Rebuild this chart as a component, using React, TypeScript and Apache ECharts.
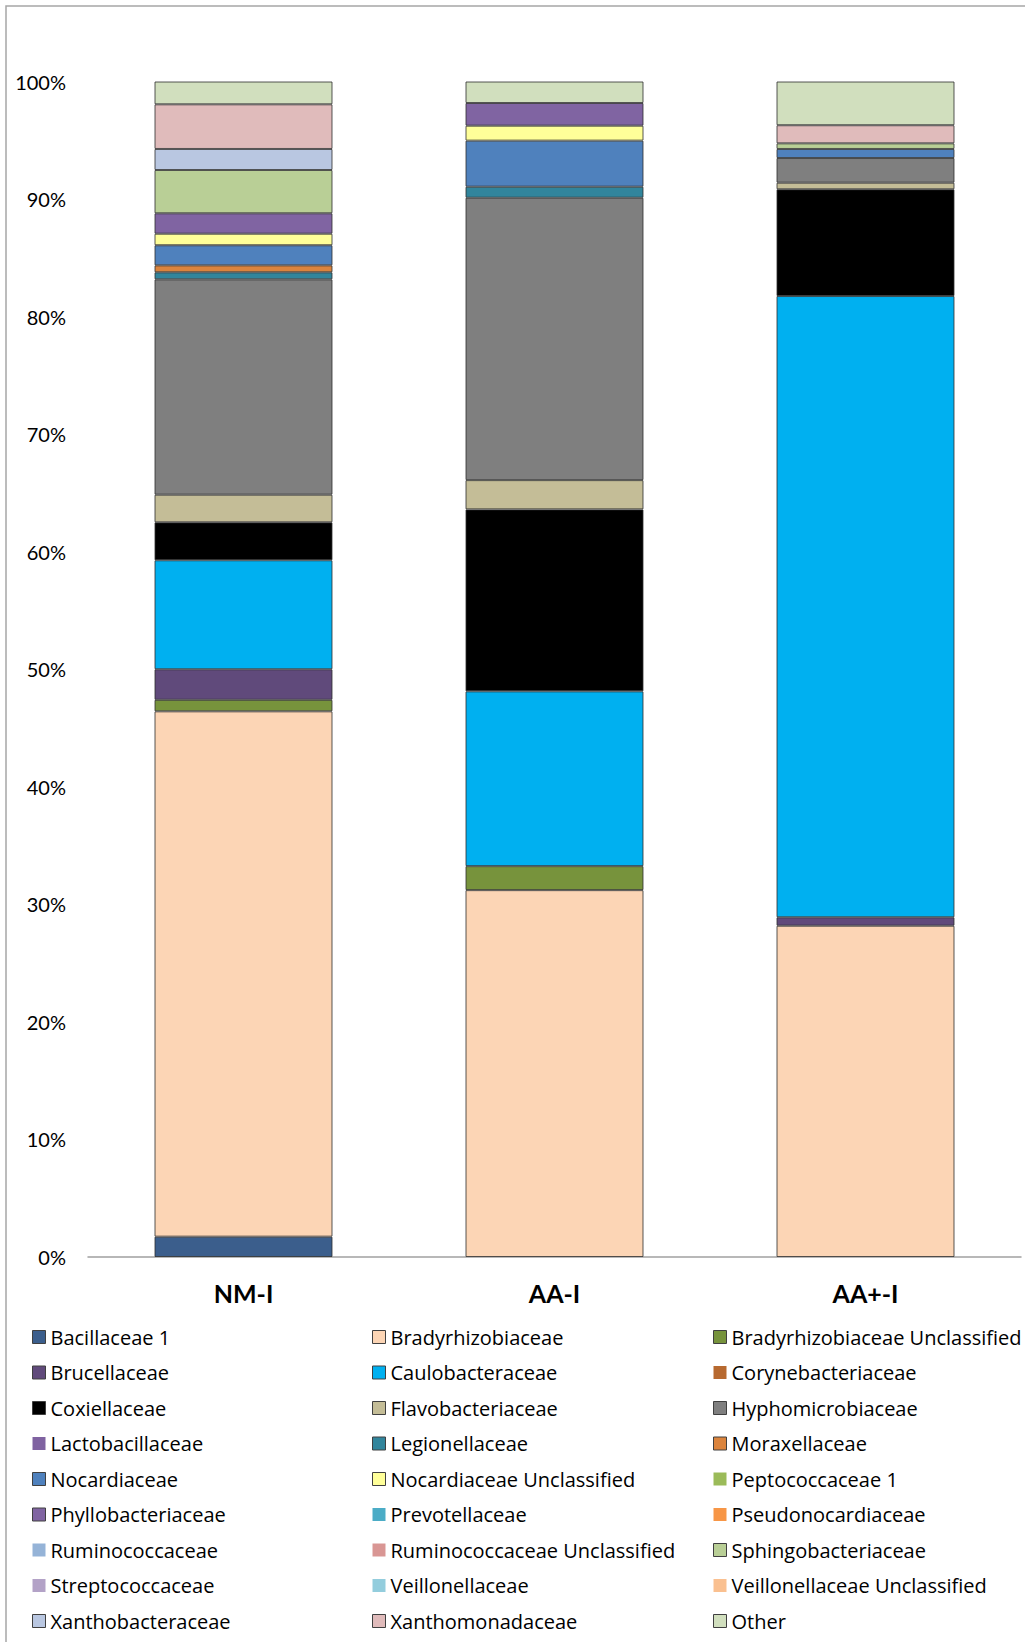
import React, { useEffect, useRef } from "react";
import * as echarts from "echarts";

const categories = ["NM-I", "AA-I", "AA+-I"];

const families = [
  "Bacillaceae 1",
  "Bradyrhizobiaceae",
  "Bradyrhizobiaceae Unclassified",
  "Brucellaceae",
  "Caulobacteraceae",
  "Corynebacteriaceae",
  "Coxiellaceae",
  "Flavobacteriaceae",
  "Hyphomicrobiaceae",
  "Lactobacillaceae",
  "Legionellaceae",
  "Moraxellaceae",
  "Nocardiaceae",
  "Nocardiaceae Unclassified",
  "Peptococcaceae 1",
  "Phyllobacteriaceae",
  "Prevotellaceae",
  "Pseudonocardiaceae",
  "Ruminococcaceae",
  "Ruminococcaceae Unclassified",
  "Sphingobacteriaceae",
  "Streptococcaceae",
  "Veillonellaceae",
  "Veillonellaceae Unclassified",
  "Xanthobacteraceae",
  "Xanthomonadaceae",
  "Other",
];

const colors = [
  "#3B5E8C", "#FCD5B5", "#77933C", "#604A7B", "#00B0F0", "#B7692F", "#000000",
  "#C4BD97", "#7F7F7F", "#7F62A1", "#31859C", "#DB843D", "#4F81BD", "#FFFF99",
  "#9BBB59", "#8064A2", "#4BACC6", "#F79646", "#95B3D7", "#D99694", "#B9CF96",
  "#B3A2C7", "#93CDDD", "#FAC090", "#B9C7E1", "#E0BBBB", "#D1DFBE",
];

const bordered = [
  true, true, true, true, true, false, true, true, true, false, true, true, true, true,
  false, true, false, false, false, false, true, false, false, false, true, true, true,
];

// percentages per family, in the order of `families`
const nmI = [1.73, 44.69, 0.98, 2.6, 9.27, 0, 3.23, 2.35, 18.32, 0, 0.6, 0.59, 1.71, 0.98, 0, 1.74, 0, 0, 0, 0, 3.68, 0, 0, 0, 1.79, 3.8, 1.94];
const aaI = [0, 31.21, 2.04, 0, 14.87, 0, 15.48, 2.49, 24.02, 0, 0.94, 0, 3.92, 1.27, 0, 1.93, 0, 0, 0, 0, 0, 0, 0, 0, 0, 0, 1.83];
const aaPlusI = [0, 28.18, 0, 0.72, 52.85, 0, 9.08, 0.56, 2.1, 0, 0, 0, 0.77, 0, 0, 0, 0, 0, 0, 0, 0.48, 0, 0, 0, 0, 1.54, 3.72];

export default function App() {
  const ref = useRef<HTMLDivElement>(null);
  useEffect(() => {
    document.body.style.margin = "0";
    const chart = echarts.init(ref.current as HTMLDivElement, null, { renderer: "svg" });
    const samples = [nmI, aaI, aaPlusI];
    const series = families.map((name, i) => ({
      name,
      type: "bar",
      stack: "total",
      barWidth: 178,
      data: samples.map((s) => (s[i] === 0 ? null : s[i])),
      itemStyle: {
        color: colors[i],
        borderColor: "rgba(45,45,45,0.8)",
        borderWidth: 1,
      },
    }));
    const lefts = [32, 372, 713];
    const legends = [0, 1, 2].map((col) => ({
      orient: "vertical",
      left: lefts[col],
      top: 1327,
      padding: 0,
      itemWidth: 13,
      itemHeight: 13,
      itemGap: 15.5,
      icon: "rect",
      selectedMode: false,
      textStyle: { fontFamily: "Open Sans", fontSize: 20, color: "#000", lineHeight: 20 },
      data: families
        .map((name, i) => ({ name, i }))
        .filter((d) => d.i % 3 === col)
        .map((d) => ({
          name: d.name,
          itemStyle: bordered[d.i]
            ? { borderColor: "#404040", borderWidth: 1 }
            : { borderWidth: 0 },
        })),
    }));
    chart.setOption({
      animation: false,
      backgroundColor: "#fff",
      grid: { left: 88, right: 4, top: 81.5, bottom: 385, containLabel: false },
      xAxis: {
        type: "category",
        data: categories,
        axisLine: { show: true, lineStyle: { color: "#A0A0A0", width: 1.5 } },
        axisTick: { show: false },
        axisLabel: {
          fontFamily: "Lato",
          fontWeight: "bold",
          fontSize: 25,
          color: "#000",
          margin: 23,
        },
      },
      yAxis: {
        type: "value",
        min: 0,
        max: 100,
        interval: 10,
        axisLine: { show: false },
        axisTick: { show: false },
        splitLine: { show: false },
        axisLabel: {
          fontFamily: "Lato",
          fontSize: 20,
          color: "#000",
          margin: 22,
          formatter: "{value}%",
        },
      },
      legend: legends,
      graphic: [
        {
          type: "rect",
          silent: true,
          z: -10,
          shape: { x: 6, y: 6, width: 1040, height: 1660 },
          style: { fill: "none", stroke: "#A6A6A6", lineWidth: 1.5 },
        },
      ],
      series,
    });
    return () => chart.dispose();
  }, []);
  return <div ref={ref} style={{ width: 1025, height: 1642 }} />;
}
